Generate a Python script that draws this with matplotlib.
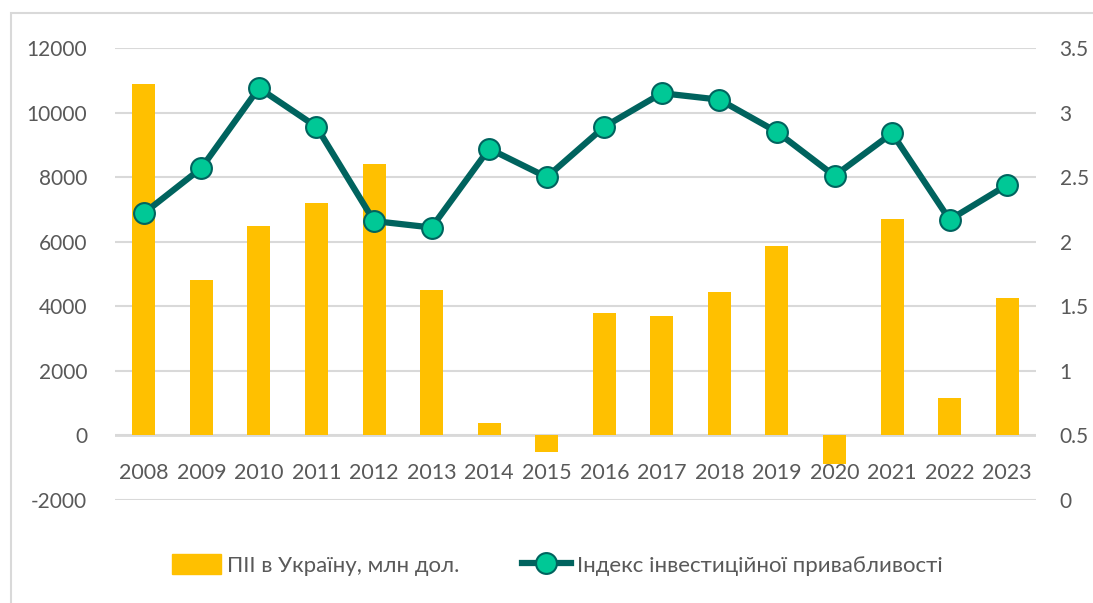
import numpy as np
import matplotlib.pyplot as plt
from matplotlib.patches import Rectangle, Patch
from matplotlib.lines import Line2D

years = ['2008', '2009', '2010', '2011', '2012', '2013', '2014', '2015',
         '2016', '2017', '2018', '2019', '2020', '2021', '2022', '2023']
fdi = [10900, 4800, 6500, 7200, 8400, 4500, 400, -500,
       3800, 3700, 4450, 5860, -900, 6700, 1150, 4250]
index = [2.22, 2.57, 3.19, 2.89, 2.16, 2.11, 2.72, 2.50,
         2.89, 3.15, 3.10, 2.85, 2.51, 2.84, 2.17, 2.44]

bar_label = 'ПІІ в Україну, млн дол.'
line_label = 'Індекс інвестиційної привабливості'

plt.rcParams['font.family'] = ['Lato', 'DejaVu Sans']
plt.rcParams['axes.unicode_minus'] = False
txt = '#595959'
grid = '#d9d9d9'
bar_c = '#ffc000'
line_c = '#00635e'
mark_c = '#00c896'

fig = plt.figure(figsize=(10.93, 6.03), dpi=100)
# chart frame, cropped at right and bottom like the screenshot
fig.patches.append(Rectangle((11 / 1093, -0.05), 1.1, 1.05 - 13 / 603,
                             transform=fig.transFigure, fill=False,
                             edgecolor=grid, lw=1.5))

ax = fig.add_axes([115 / 1093, 1 - 500 / 603, 921 / 1093, 452 / 603])
x = np.arange(len(years))
ax.bar(x, fdi, width=0.4, color=bar_c, zorder=2)
ax.set_xlim(-0.5, len(years) - 0.5)
ax.set_ylim(-2000, 12000)
ax.set_yticks(np.arange(-2000, 12001, 2000))
ax.yaxis.grid(True, color=grid, lw=1.5, zorder=0)
ax.set_axisbelow(True)
for s in ax.spines.values():
    s.set_visible(False)
ax.axhline(0, color=grid, lw=2, zorder=1)
ax.tick_params(axis='y', length=0, labelsize=15, labelcolor=txt, pad=20)
ax.set_xticks([])
# year labels sit just under the zero line, like in Excel
for xi, yr in zip(x, years):
    ax.text(xi, -1150, yr, ha='center', va='center', fontsize=15.5, color=txt)

ax2 = ax.twinx()
ax2.plot(x, index, color=line_c, lw=4.5, marker='o', ms=15,
         mfc=mark_c, mec=line_c, mew=1.5, zorder=3)
ax2.set_ylim(0, 3.5)
ax2.set_yticks(np.arange(0, 3.51, 0.5))
ax2.set_yticklabels(['0', '0.5', '1', '1.5', '2', '2.5', '3', '3.5'])
for s in ax2.spines.values():
    s.set_visible(False)
ax2.tick_params(axis='y', length=0, labelsize=15, labelcolor=txt, pad=17)

handles = [Patch(color=bar_c),
           Line2D([0], [0], color=line_c, lw=4.5, marker='o', ms=15,
                  mfc=mark_c, mec=line_c, mew=1.5)]
fig.legend(handles, [bar_label, line_label], loc='center',
           bbox_to_anchor=(0.51, 1 - 565 / 603), ncol=2, frameon=False,
           fontsize=16, labelcolor=txt, handlelength=2.2, handleheight=1.0,
           columnspacing=2.8, handletextpad=0.3)

fig.savefig('out.png', dpi=100)
